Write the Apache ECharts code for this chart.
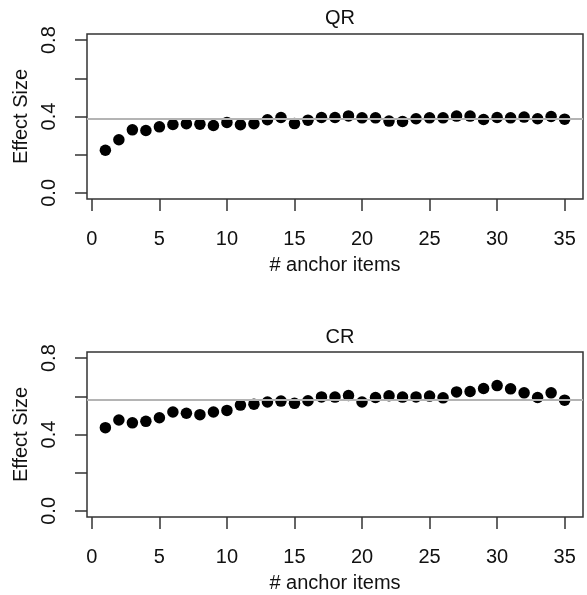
<!DOCTYPE html>
<html>
<head>
<meta charset="utf-8">
<script src="https://cdn.jsdelivr.net/npm/echarts@6/dist/echarts.min.js"></script>
<style>
html,body{margin:0;padding:0;background:#fff;}
#chart{width:587px;height:595px;}
</style>
</head>
<body>
<div id="chart"></div>
<script>
const anchorItems = [1,2,3,4,5,6,7,8,9,10,11,12,13,14,15,16,17,18,19,20,21,22,23,24,25,26,27,28,29,30,31,32,33,34,35];
const qrValues = [0.223,0.278,0.330,0.327,0.346,0.358,0.362,0.360,0.353,0.369,0.357,0.362,0.383,0.395,0.363,0.381,0.395,0.395,0.403,0.393,0.393,0.376,0.374,0.388,0.393,0.393,0.402,0.402,0.384,0.395,0.393,0.397,0.388,0.400,0.386];
const crValues = [0.436,0.476,0.461,0.469,0.488,0.518,0.511,0.504,0.518,0.526,0.554,0.559,0.570,0.575,0.563,0.577,0.597,0.596,0.604,0.570,0.594,0.603,0.596,0.597,0.601,0.592,0.623,0.625,0.641,0.656,0.639,0.618,0.594,0.618,0.580];
const qrReference = 0.390;
const crReference = 0.578;
const panelTitles = ['QR', 'CR'];
const xTickValues = [0,5,10,15,20,25,30,35];
const yTickValues = [0,0.2,0.4,0.6,0.8];
const yLabelValues = [0,0.4,0.8];
const xAxisTitle = '# anchor items';
const yAxisTitle = 'Effect Size';

const FONT = 'Liberation Sans, Arial, sans-serif';
const TXT = '#111';
const FS = 20;

function pairs(xs, ys){ return xs.map((x,i)=>[x, ys[i]]); }

function xAxisFor(idx){
  return {
    type:'value', gridIndex: idx, min:-0.36, max:36.36,
    axisLine:{show:false, onZero:false},
    splitLine:{show:false},
    axisTick:{show:true, customValues:xTickValues, length:12, lineStyle:{color:'#333', width:1.5}},
    axisLabel:{customValues:xTickValues, fontSize:FS, fontFamily:FONT, color:TXT, margin:30},
    name:xAxisTitle, nameLocation:'middle', nameGap:56,
    nameTextStyle:{fontSize:FS, fontFamily:FONT, color:TXT}
  };
}
function yAxisFor(idx){
  return {
    type:'value', gridIndex: idx, min:-0.032, max:0.832,
    axisLine:{show:false, onZero:false},
    splitLine:{show:false},
    axisTick:{show:true, customValues:yTickValues, length:12, lineStyle:{color:'#333', width:1.5}},
    axisLabel:{customValues:yLabelValues, rotate:90, fontSize:FS, fontFamily:FONT, color:TXT, margin:28,
      formatter:(v)=>v.toFixed(1)},
    name:yAxisTitle, nameLocation:'middle', nameGap:49, nameRotate:90,
    nameTextStyle:{fontSize:FS, fontFamily:FONT, color:TXT}
  };
}
function scatterFor(idx, vals){
  return {
    type:'scatter', xAxisIndex:idx, yAxisIndex:idx, z:2,
    data:pairs(anchorItems, vals), symbol:'circle', symbolSize:11.5,
    itemStyle:{color:'#000', opacity:1}
  };
}
function refLineFor(idx, ref){
  return {
    type:'scatter', xAxisIndex:idx, yAxisIndex:idx, z:5, data:[],
    markLine:{silent:true, symbol:['none','none'], label:{show:false}, z:5,
      lineStyle:{color:'#b4b4b4', width:2, type:'solid', opacity:1},
      data:[{yAxis:ref}]}
  };
}

const chart = echarts.init(document.getElementById('chart'), null, {renderer:'canvas'});
chart.setOption({
  backgroundColor:'#fff',
  animation:false,
  title:[
    {text:panelTitles[0], left:335, top:3, textAlign:'center', textStyle:{fontSize:FS, fontWeight:'normal', fontFamily:FONT, color:TXT}},
    {text:panelTitles[1], left:335, top:322, textAlign:'center', textStyle:{fontSize:FS, fontWeight:'normal', fontFamily:FONT, color:TXT}}
  ],
  grid:[
    {left:87, top:34, width:496, height:165, show:true, borderColor:'#333', borderWidth:1.5, backgroundColor:'transparent'},
    {left:87, top:352, width:496, height:165, show:true, borderColor:'#333', borderWidth:1.5, backgroundColor:'transparent'}
  ],
  xAxis:[xAxisFor(0), xAxisFor(1)],
  yAxis:[yAxisFor(0), yAxisFor(1)],
  series:[scatterFor(0, qrValues), scatterFor(1, crValues), refLineFor(0, qrReference), refLineFor(1, crReference)]
});
</script>
</body>
</html>
